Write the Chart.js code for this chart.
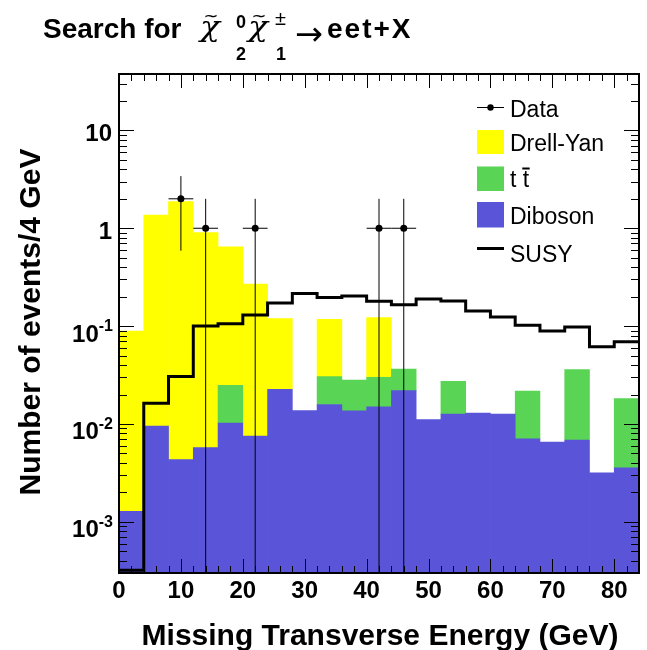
<!DOCTYPE html>
<html><head><meta charset="utf-8">
<script src="https://cdn.jsdelivr.net/npm/chart.js@4/dist/chart.umd.min.js"></script>
<style>html,body{margin:0;padding:0;background:#fff;}#wrap{position:relative;width:647px;height:650px;}</style>
</head><body><div id="wrap"><canvas id="c" width="647" height="650"></canvas></div>
<script>
// ---- data ----
const binCenters = [2,6,10,14,18,22,26,30,34,38,42,46,50,54,58,62,66,70,74,78,82];
const binEdges   = [0,4,8,12,16,20,24,28,32,36,40,44,48,52,56,60,64,68,72,76,80,84];
const diboson  = [0.00128,0.00952,0.00432,0.00573,0.0102,0.00753,0.0226,0.0137,0.0158,0.0136,0.0150,0.0219,0.0111,0.0126,0.0129,0.0126,0.00703,0.00655,0.00686,0.00317,0.00356];
const ttbar    = [0,0,0,0,0.0146,0,0,0,0.0147,0.0145,0.0150,0.0145,0,0.0147,0,0,0.0147,0,0.0292,0,0.0146];
const drellYan = [0.0877,1.35,1.866,0.900,0.622,0.262,0.097,0,0.0865,0,0.092,0,0,0,0,0,0,0,0,0,0];
const susy     = [0,0.0163,0.0305,0.100,0.106,0.130,0.172,0.215,0.196,0.203,0.179,0.165,0.189,0.181,0.143,0.124,0.102,0.0894,0.098,0.0615,0.0692];
const dataX    = [10,14,22,42,46];
const dataY    = [2,1,1,1,1];
const dataErrY = [1.41,1,1,1,1];
const dataErrX = [2,2,2,2,2];
const xTickValues = [0,10,20,30,40,50,60,70,80];
const xTickLabels = ['0','10','20','30','40','50','60','70','80'];
const yTickValues = [10,1,0.1,0.01,0.001];
const yTickBase   = ['10','1','10','10','10'];
const yTickExp    = ['','','-1','-2','-3'];
const legendLabels = ['Data','Drell-Yan','t t','Diboson','SUSY'];
const X_MIN = 0, X_MAX = 84, Y_MIN = 3.2e-4, Y_MAX = 37.7;

const COL_DY = 'rgb(255,255,0)', COL_TT = 'rgb(89,212,84)', COL_DB = 'rgb(89,84,216)';
const SANS = '"Liberation Sans", Arial, Helvetica, sans-serif';

const barPts = arr => binCenters.map((x,i) => ({x, y: arr[i] > 0 ? arr[i] : null}));
const susyPts = binEdges.map((e,i) => {
  const v = susy[Math.min(i, susy.length-1)];
  return {x: e, y: v > 0 ? v : Y_MIN};
});

const decor = {
  id: 'decor',
  afterDatasetsDraw(chart) {
    const ctx = chart.ctx, xs = chart.scales.x, ys = chart.scales.y;
    ctx.save();
    ctx.strokeStyle = '#000'; ctx.lineWidth = 1;
    for (let i = 0; i < dataX.length; i++) {
      const px = xs.getPixelForValue(dataX[i]);
      const py = ys.getPixelForValue(dataY[i]);
      const lo = dataY[i] - dataErrY[i];
      const pyLo = lo > 0 ? ys.getPixelForValue(lo) : chart.chartArea.bottom;
      const pyHi = ys.getPixelForValue(dataY[i] + dataErrY[i]);
      ctx.beginPath();
      ctx.moveTo(px, pyHi); ctx.lineTo(px, pyLo);
      ctx.moveTo(xs.getPixelForValue(dataX[i]-dataErrX[i]), py);
      ctx.lineTo(xs.getPixelForValue(dataX[i]+dataErrX[i]), py);
      ctx.stroke();
    }
    ctx.restore();
  },
  afterDraw(chart) {
    const ctx = chart.ctx, xs = chart.scales.x, ys = chart.scales.y, ca = chart.chartArea;
    ctx.save();
    ctx.strokeStyle = '#000'; ctx.lineWidth = 2;
    ctx.strokeRect(ca.left, ca.top, ca.right - ca.left, ca.bottom - ca.top);
    ctx.lineWidth = 1;
    ctx.beginPath();
    for (let v = X_MIN; v <= X_MAX; v += 2) {
      const px = Math.round(xs.getPixelForValue(v)) + 0.5;
      const L = (v % 10 === 0) ? 14 : 7;
      ctx.moveTo(px, ca.bottom); ctx.lineTo(px, ca.bottom - L);
      ctx.moveTo(px, ca.top); ctx.lineTo(px, ca.top + L);
    }
    for (let e = -4; e <= 1; e++) {
      for (let k = 1; k <= 9; k++) {
        const v = k * Math.pow(10, e);
        if (v < Y_MIN || v > Y_MAX) continue;
        const py = Math.round(ys.getPixelForValue(v)) + 0.5;
        const L = k === 1 ? 15 : 8;
        ctx.moveTo(ca.left, py); ctx.lineTo(ca.left + L, py);
        ctx.moveTo(ca.right, py); ctx.lineTo(ca.right - L, py);
      }
    }
    ctx.stroke();
    ctx.fillStyle = '#000';
    ctx.font = 'bold 24px ' + SANS;
    ctx.textAlign = 'center'; ctx.textBaseline = 'alphabetic';
    xTickValues.forEach((v,i) => ctx.fillText(xTickLabels[i], xs.getPixelForValue(v), ca.bottom + 25));
    yTickValues.forEach((v,i) => {
      const py = ys.getPixelForValue(v);
      if (yTickExp[i] === '') {
        ctx.font = 'bold 24px ' + SANS; ctx.textAlign = 'right';
        ctx.fillText(yTickBase[i], ca.left - 7, py + 11);
      } else {
        ctx.font = 'bold 16px ' + SANS; ctx.textAlign = 'left';
        const ew = ctx.measureText(yTickExp[i]).width;
        const ex = ca.left - 6 - ew;
        ctx.fillText(yTickExp[i], ex, py + 5);
        ctx.font = 'bold 24px ' + SANS; ctx.textAlign = 'right';
        ctx.fillText(yTickBase[i], ex, py + 15.5);
      }
    });
    ctx.font = 'bold 30px ' + SANS; ctx.textAlign = 'center';
    ctx.fillText('Missing Transverse Energy (GeV)', 380, 645);
    ctx.save();
    ctx.translate(40, 322); ctx.rotate(-Math.PI/2);
    ctx.fillText('Number of events/4 GeV', 0, 0);
    ctx.restore();
    const lx = 477, lw = 27, tx = 510;
    ctx.font = '23px ' + SANS; ctx.textAlign = 'left';
    ctx.strokeStyle = '#000'; ctx.lineWidth = 1;
    ctx.beginPath(); ctx.moveTo(lx, 107.5); ctx.lineTo(lx + lw, 107.5); ctx.stroke();
    ctx.beginPath(); ctx.arc(lx + lw/2, 107.5, 3.2, 0, Math.PI*2); ctx.fill();
    ctx.fillText(legendLabels[0], tx, 116.5);
    ctx.fillStyle = COL_DY; ctx.fillRect(lx, 130, lw, 24);
    ctx.fillStyle = '#000'; ctx.fillText(legendLabels[1], tx, 151);
    ctx.fillStyle = COL_TT; ctx.fillRect(lx, 166.5, lw, 24.5);
    ctx.fillStyle = '#000'; ctx.fillText(legendLabels[2], tx, 187);
    const tw1 = ctx.measureText('t ').width, tw2 = ctx.measureText('t').width;
    ctx.fillRect(tx + tw1 - 0.5, 167.5, tw2 + 1, 2);
    ctx.fillStyle = COL_DB; ctx.fillRect(lx, 202, lw, 25.5);
    ctx.fillStyle = '#000'; ctx.fillText(legendLabels[3], tx, 223.5);
    ctx.lineWidth = 3;
    ctx.beginPath(); ctx.moveTo(lx, 248.5); ctx.lineTo(lx + lw, 248.5); ctx.stroke();
    ctx.fillText(legendLabels[4], tx, 261.5);
    ctx.font = 'bold 28px ' + SANS; ctx.textAlign = 'left';
    ctx.fillText('Search for', 43, 38);
    const chi = (x) => {
      ctx.save();
      ctx.font = 'italic 27px "DejaVu Serif", "Liberation Serif", serif';
      const w = ctx.measureText('\u03C7').width;
      ctx.translate(x, 36);
      ctx.scale(20 / w, 1);
      ctx.fillText('\u03C7', 0, 0);
      ctx.restore();
      ctx.save();
      ctx.font = '18px "DejaVu Sans", sans-serif';
      ctx.textAlign = 'center';
      const tw = ctx.measureText('~').width;
      ctx.translate(x + 11, 22);
      ctx.scale(15 / tw, 1);
      ctx.fillText('~', 0, 0);
      ctx.restore();
    };
    chi(200);
    ctx.font = 'bold 18px ' + SANS;
    ctx.fillText('0', 236, 28);
    ctx.fillText('2', 236, 60);
    chi(248);
    ctx.font = '20px ' + SANS;
    ctx.fillText('\u00B1', 275, 25);
    ctx.font = 'bold 18px ' + SANS;
    ctx.fillText('1', 276, 60);
    ctx.font = '100px "DejaVu Sans", sans-serif';
    const aw = ctx.measureText('\u2192').width;
    ctx.font = (100 * 28 / aw).toFixed(1) + 'px "DejaVu Sans", sans-serif';
    ctx.fillText('\u2192', 295, 45);
    ctx.font = 'bold 28px ' + SANS;
    ctx.letterSpacing = '2px';
    ctx.fillText('eet+X', 327, 38);
    ctx.letterSpacing = '0px';
    ctx.restore();
  }
};

new Chart(document.getElementById('c'), {
  type: 'bar',
  data: {
    datasets: [
      {type:'line', label: legendLabels[0], data: dataX.map((x,i) => ({x, y: dataY[i]})), showLine:false,
       pointRadius:3.5, pointBackgroundColor:'#000', pointBorderWidth:0, order:0, stack:'data'},
      {type:'line', label: legendLabels[4], data: susyPts, stepped:'before', borderColor:'#000', borderWidth:3,
       pointRadius:0, fill:false, order:1, stack:'susy', borderJoinStyle:'miter', borderCapStyle:'butt'},
      {label: legendLabels[3], data: barPts(diboson), backgroundColor: COL_DB, order:2, stack:'mc',
       barPercentage:1, categoryPercentage:1, borderWidth:0},
      {label: legendLabels[2], data: barPts(ttbar), backgroundColor: COL_TT, order:3, stack:'mc',
       barPercentage:1, categoryPercentage:1, borderWidth:0},
      {label: legendLabels[1], data: barPts(drellYan), backgroundColor: COL_DY, order:4, stack:'mc',
       barPercentage:1, categoryPercentage:1, borderWidth:0}
    ]
  },
  options: {
    responsive:false, animation:false, devicePixelRatio:1,
    layout:{padding:{left:119, right:8, top:74, bottom:77}},
    plugins:{legend:{display:false}, tooltip:{enabled:false}, title:{display:false}},
    scales:{
      x:{type:'linear', min:X_MIN, max:X_MAX, offset:false, display:false, stacked:true},
      y:{type:'logarithmic', min:Y_MIN, max:Y_MAX, display:false, stacked:true}
    }
  },
  plugins:[decor]
});
</script></body></html>
